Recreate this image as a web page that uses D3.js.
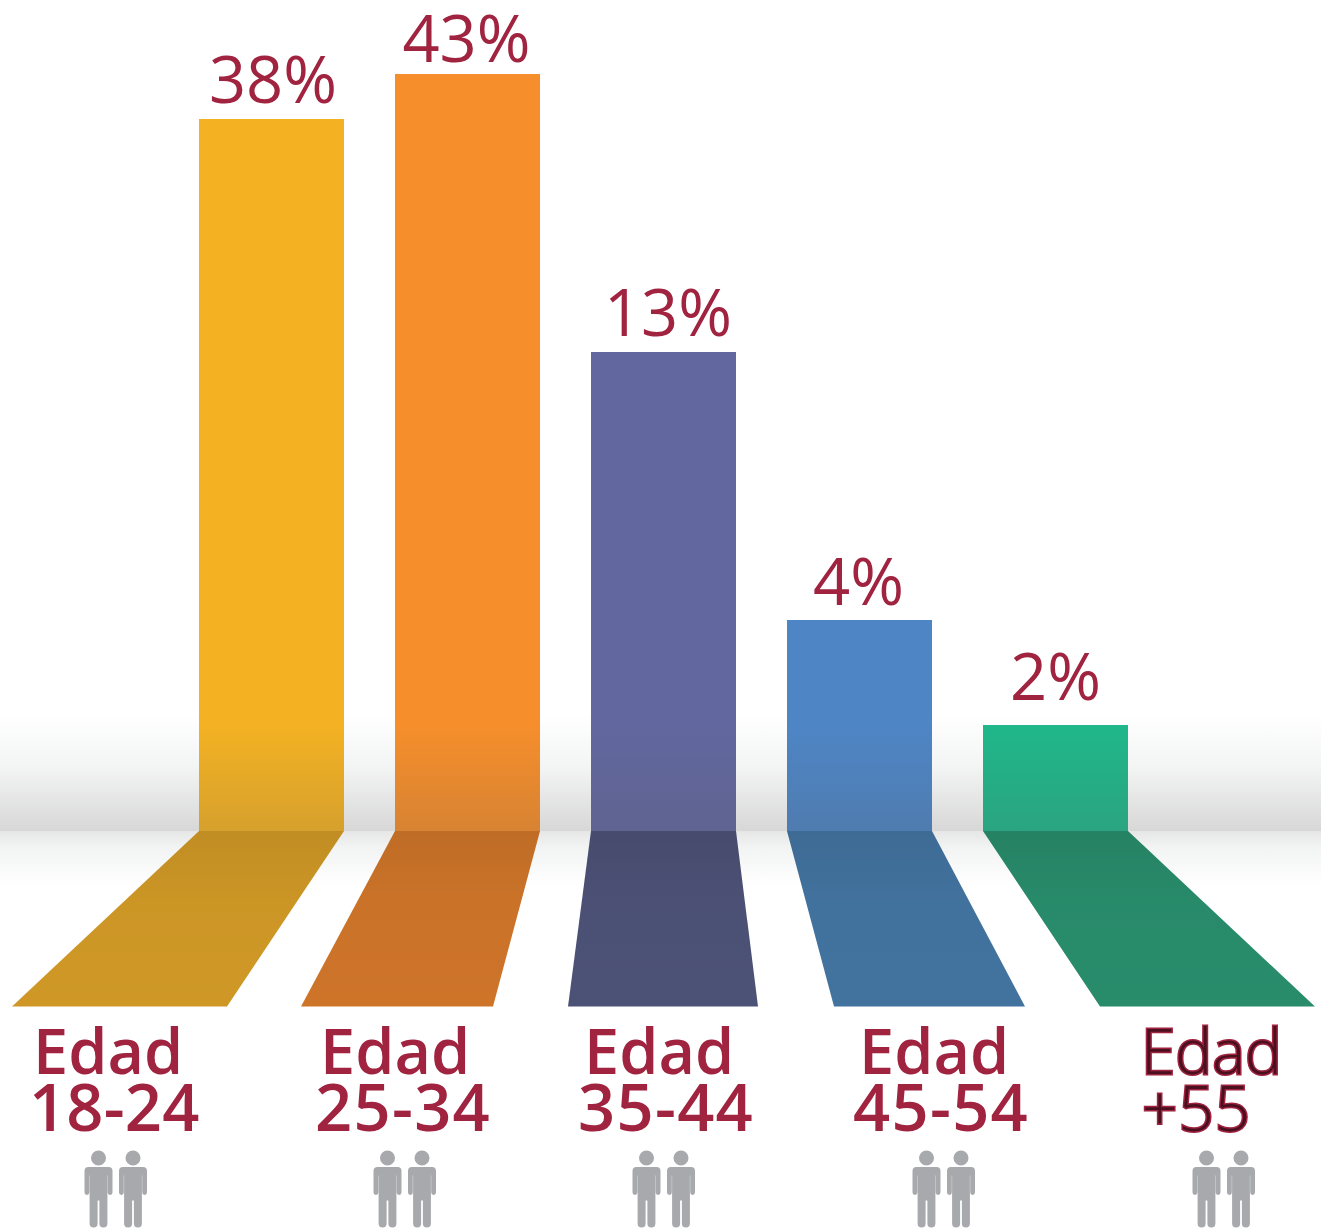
<!DOCTYPE html>
<html>
<head>
<meta charset="utf-8">
<script src="https://cdn.jsdelivr.net/npm/d3@7"></script>
<style>
  html, body { margin: 0; background: #fff; }
  svg { display: block; font-family: "Open Sans", sans-serif; }
</style>
</head>
<body>
<div id="chart"></div>
<script>
const categories = ["18-24", "25-34", "35-44", "45-54", "+55"];
const values = [38, 43, 13, 4, 2];
const labelTitle = "Edad";
const barColors = ["#f4b223", "#f68e2b", "#62679f", "#4e85c5", "#20b78b"];
const floorColors = ["#cf9826", "#cd7429", "#4c5176", "#42739f", "#288c6b"];

const width = 1321,
  height = 1232,
  baseY = 831,
  floorY = 1006.5;

const textColor = "#a0233f";

// the bars in the original are not to scale, so y is piecewise through each value
const y = d3.scaleLinear()
  .domain([0, 2, 4, 13, 38, 43])
  .range([baseY, 725, 620, 352, 119, 74]);

const x = d3.scaleBand()
  .domain(categories)
  .range([199, 1128])
  .paddingInner(51 / 196)
  .paddingOuter(0);

// layout of the floor and of the text under it
const floorFeet = [[12, 227], [301, 493], [568, 758], [834, 1025], [1100, 1315]];
const titleX = [33, 320, 584, 859, 1141];
const rangeX = [29, 315, 578, 853, 1142];
const rangeSpacing = [0.2, 1.3, 1.3, 1.3, 1];
const iconX = [99, 388, 647, 927, 1207];
const valueDx = [1.5, -1, 4.5, -1, 0];
const valueGap = [16, 12, 16, 15, 25];

const svg = d3.select("#chart")
  .append("svg")
  .attr("width", width)
  .attr("height", height);

const defs = svg.append("defs");

function gradient(id, y1, y2, stops) {
  const g = defs.append("linearGradient")
    .attr("id", id)
    .attr("gradientUnits", "userSpaceOnUse")
    .attr("x1", 0).attr("x2", 0)
    .attr("y1", y1).attr("y2", y2);
  stops.forEach(s => {
    g.append("stop")
      .attr("offset", s[0])
      .attr("stop-color", s[1])
      .attr("stop-opacity", s[2]);
  });
}

gradient("wallShade", 715, baseY, [[0, "#ffffff", 1], [0.45, "#f3f4f4", 1], [1, "#d7d7d7", 1]]);
gradient("floorShade", baseY, 885, [[0, "#e6e6e6", 1], [0.3, "#f2f3f3", 1], [1, "#ffffff", 1]]);
gradient("barShade", 725, baseY, [[0, "#555555", 0], [1, "#555555", 0.19]]);
gradient("footShade", baseY, floorY, [[0, "#000000", 0.07], [0.4, "#000000", 0.015], [1, "#000000", 0]]);

svg.append("rect")
  .attr("x", 0).attr("y", 715)
  .attr("width", width).attr("height", baseY - 715)
  .attr("fill", "url(#wallShade)");
svg.append("rect")
  .attr("x", 0).attr("y", baseY)
  .attr("width", width).attr("height", 885 - baseY)
  .attr("fill", "url(#floorShade)");

const bars = svg.selectAll(".bar")
  .data(categories)
  .enter()
  .append("g")
  .attr("class", "bar");

bars.append("rect")
  .attr("x", d => x(d))
  .attr("y", (d, i) => y(values[i]))
  .attr("width", x.bandwidth())
  .attr("height", (d, i) => baseY - y(values[i]))
  .attr("fill", (d, i) => barColors[i]);

bars.append("rect")
  .attr("x", d => x(d))
  .attr("y", (d, i) => Math.max(y(values[i]), 725))
  .attr("width", x.bandwidth())
  .attr("height", (d, i) => baseY - Math.max(y(values[i]), 725))
  .attr("fill", "url(#barShade)");

const footPath = (d, i) => {
  const left = x(d), right = left + x.bandwidth();
  return `M${left},${baseY}L${right},${baseY}L${floorFeet[i][1]},${floorY}L${floorFeet[i][0]},${floorY}Z`;
};

bars.append("path")
  .attr("d", footPath)
  .attr("fill", (d, i) => floorColors[i]);
bars.append("path")
  .attr("d", footPath)
  .attr("fill", "url(#footShade)");

bars.append("text")
  .attr("x", (d, i) => x(d) + x.bandwidth() / 2 + valueDx[i])
  .attr("y", (d, i) => y(values[i]) - valueGap[i])
  .attr("text-anchor", "middle")
  .attr("font-size", 65)
  .attr("fill", textColor)
  .text((d, i) => values[i] + "%");

// the last label is lighter and outlined in the original
const labels = svg.selectAll(".label")
  .data(categories)
  .enter()
  .append("g")
  .attr("class", "label")
  .attr("font-weight", (d, i) => i === 4 ? 300 : 600)
  .attr("fill", (d, i) => i === 4 ? "#4a1020" : textColor)
  .attr("stroke", (d, i) => i === 4 ? textColor : "none")
  .attr("stroke-width", 3)
  .attr("paint-order", "stroke");

labels.append("text")
  .attr("x", (d, i) => titleX[i])
  .attr("y", 1074)
  .attr("font-size", (d, i) => i === 4 ? 62 : 63)
  .text(labelTitle);

labels.append("text")
  .attr("x", (d, i) => rangeX[i])
  .attr("y", 1131)
  .attr("font-size", (d, i) => i === 4 ? 62 : 65)
  .attr("letter-spacing", (d, i) => rangeSpacing[i])
  .text(d => d);

// one standing figure, origin at the middle of the head top
const person = "M-7.5,7.5a7.5,7.5 0 1,0 15,0a7.5,7.5 0 1,0 -15,0Z" +
  "M-10,16.5H10a4,4 0 0,1 4,4V42a2.4,2.4 0 0,1 -4.8,0V25h-0.3V73a4,4 0 0,1 -8,0V50h-1.8V73a4,4 0 0,1 -8,0V25h-0.3V42a2.4,2.4 0 0,1 -4.8,0V20.5a4,4 0 0,1 4,-4Z";

categories.forEach((d, i) => {
  [0, 34.5].forEach(dx => {
    svg.append("path")
      .attr("transform", `translate(${iconX[i] + dx - 0.5},1150.5)`)
      .attr("d", person)
      .attr("fill", "#a7a9ac");
  });
});
</script>
</body>
</html>
